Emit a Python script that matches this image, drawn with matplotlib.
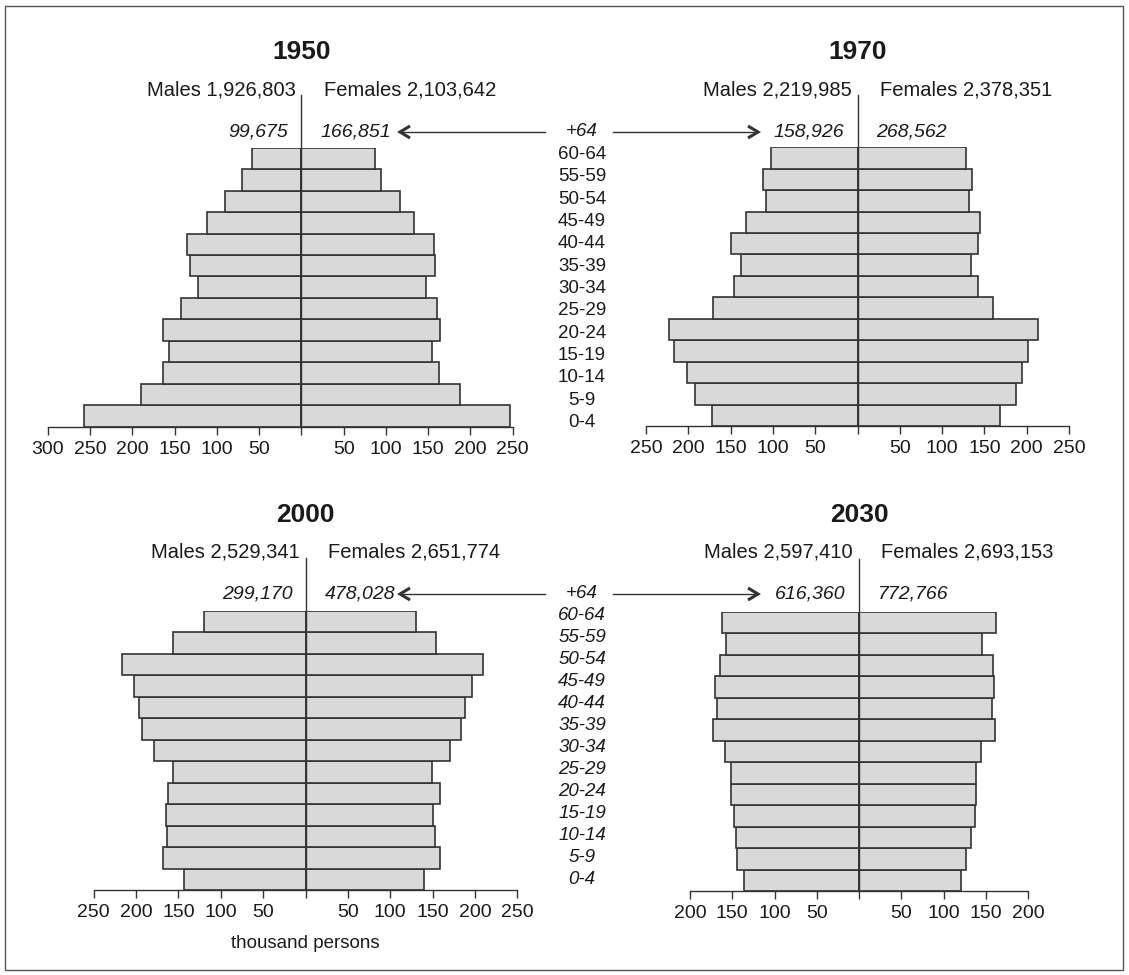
import matplotlib
matplotlib.use("Agg")
import matplotlib.pyplot as plt
from matplotlib.patches import Rectangle
from matplotlib.lines import Line2D

plt.rcParams['font.family'] = ['Liberation Sans Narrow', 'Liberation Sans', 'DejaVu Sans']

# ---------------- data (thousand persons), age groups bottom -> top ----------------
age_groups = ["0-4", "5-9", "10-14", "15-19", "20-24", "25-29", "30-34",
              "35-39", "40-44", "45-49", "50-54", "55-59", "60-64"]

males_1950 = [257, 190, 164, 157, 164, 143, 122, 132, 136, 112, 91, 70, 58]
females_1950 = [247, 188, 163, 155, 164, 160, 147, 158, 157, 133, 117, 94, 87]
males_1970 = [172, 192, 202, 217, 223, 171, 146, 138, 149, 132, 108, 112, 102]
females_1970 = [168, 187, 194, 202, 213, 160, 142, 134, 143, 145, 132, 135, 128]
males_2000 = [143, 168, 163, 165, 162, 156, 179, 193, 197, 202, 217, 156, 120]
females_2000 = [140, 159, 153, 150, 159, 149, 170, 183, 188, 196, 210, 154, 130]
males_2030 = [136, 144, 146, 148, 151, 152, 159, 173, 168, 170, 164, 157, 162]
females_2030 = [121, 127, 133, 137, 138, 138, 144, 161, 157, 160, 158, 146, 162]

years = ["1950", "1970", "2000", "2030"]
male_totals = ["1,926,803", "2,219,985", "2,529,341", "2,597,410"]
female_totals = ["2,103,642", "2,378,351", "2,651,774", "2,693,153"]
male_64 = ["99,675", "158,926", "299,170", "616,360"]
female_64 = ["166,851", "268,562", "478,028", "772,766"]

left_ticks = [[300, 250, 200, 150, 100, 50], [250, 200, 150, 100, 50],
              [250, 200, 150, 100, 50], [200, 150, 100, 50]]
right_ticks = [[50, 100, 150, 200, 250], [50, 100, 150, 200, 250],
               [50, 100, 150, 200, 250], [50, 100, 150, 200]]

males = [males_1950, males_1970, males_2000, males_2030]
females = [females_1950, females_1970, females_2000, females_2030]

# ---------------- layout ----------------
W, H = 1129, 975
fig = plt.figure(figsize=(W / 100, H / 100), dpi=100)


def fx(x):
    return x / W


def fy(y):
    return 1 - y / H


# panel geometry in pixels: (x_left, x_right, y_top, y_bottom)
panels = [(48, 512.7, 147.7, 426.7),
          (646, 1069, 147.3, 426.0),
          (93.7, 517.3, 610.7, 890.0),
          (690, 1028, 611.7, 891.0)]

FACE = "#d9d9d9"
EDGE = "#333333"
TXT = "#1a1a1a"

for i in range(4):
    xl, xr, yt, yb = panels[i]
    ax = fig.add_axes([fx(xl), fy(yb), (xr - xl) / W, (yb - yt) / H])
    ypos = list(range(len(age_groups)))
    ax.barh(ypos, [-m for m in males[i]], height=1.0, color=FACE,
            edgecolor=EDGE, linewidth=1.2)
    ax.barh(ypos, females[i], height=1.0, color=FACE,
            edgecolor=EDGE, linewidth=1.2)
    ax.set_xlim(-left_ticks[i][0], right_ticks[i][-1])
    ax.set_ylim(-0.5, 12.5)
    ticks = [-t for t in left_ticks[i]] + [0] + right_ticks[i]
    labels = [str(t) for t in left_ticks[i]] + [""] + [str(t) for t in right_ticks[i]]
    ax.set_xticks(ticks)
    ax.set_xticklabels(labels, fontsize=14, color=TXT)
    ax.set_yticks([])
    for s in ["top", "left", "right"]:
        ax.spines[s].set_visible(False)
    ax.spines["bottom"].set_color(EDGE)
    ax.spines["bottom"].set_linewidth(1.0)
    ax.tick_params(axis="x", direction="out", length=6, width=1.0,
                   color=EDGE, pad=4)
    ax.plot([0, 0], [-0.5, 14.96], color=EDGE, linewidth=1.0, clip_on=False,
            zorder=3)
    ax.patch.set_visible(False)

# ---------------- texts ----------------
centers = [301.5, 857.5, 305.5, 859.0]
title_y = [52, 52, 515, 515]
tot_y = [90, 90, 552, 552]
it_y = [132, 132, 594, 594]

for i in range(4):
    cx = centers[i]
    fig.text(fx(cx), fy(title_y[i]), years[i], ha="center", va="center",
             fontsize=19, fontweight="bold", color=TXT)
    fig.text(fx(cx - 6), fy(tot_y[i]), "Males " + male_totals[i], ha="right",
             va="center", fontsize=14.5, color=TXT)
    fig.text(fx(cx + 22), fy(tot_y[i]), "Females " + female_totals[i], ha="left",
             va="center", fontsize=14.5, color=TXT)
    fig.text(fx(cx - 13), fy(it_y[i]), male_64[i], ha="right", va="center",
             fontsize=14, style="italic", color=TXT)
    fig.text(fx(cx + 19), fy(it_y[i]), female_64[i], ha="left", va="center",
             fontsize=14, style="italic", color=TXT)

# age labels in the middle
for row, (y0, step, ital) in enumerate([(154.3, 22.37, False), (616.0, 22.0, True)]):
    ylab = 131.7 if row == 0 else 594
    fig.text(fx(582), fy(ylab), "+64", ha="center", va="center", fontsize=13.5,
             style="italic", color=TXT)
    for k, lab in enumerate(reversed(age_groups)):
        fig.text(fx(582), fy(y0 + k * step), lab, ha="center", va="center",
                 fontsize=13.5, style="italic" if ital else "normal", color=TXT)


# arrows: thin shaft + bold open chevron head
def arrow(x0, x1, y):
    fig.add_artist(Line2D([fx(x0), fx(x1)], [fy(y), fy(y)],
                          transform=fig.transFigure, color=EDGE, linewidth=1.0))
    d = 1 if x1 > x0 else -1
    hx = x1 - d * 10
    fig.add_artist(Line2D([fx(hx), fx(x1), fx(hx)], [fy(y - 6), fy(y), fy(y + 6)],
                          transform=fig.transFigure, color=EDGE, linewidth=2.2,
                          solid_joinstyle="miter", solid_capstyle="butt"))


for ya in [132, 594]:
    arrow(545, 400, ya)
    arrow(613, 758, ya)

fig.text(fx(305.5), fy(943), "thousand persons", ha="center", va="center",
         fontsize=13.5, color=TXT)

# border
fig.add_artist(Rectangle((fx(5), fy(970)), (1123 - 5) / W, (970 - 6) / H,
                         transform=fig.transFigure, fill=False,
                         edgecolor="#555555", linewidth=1.0))

fig.savefig("out.png", dpi=100)
